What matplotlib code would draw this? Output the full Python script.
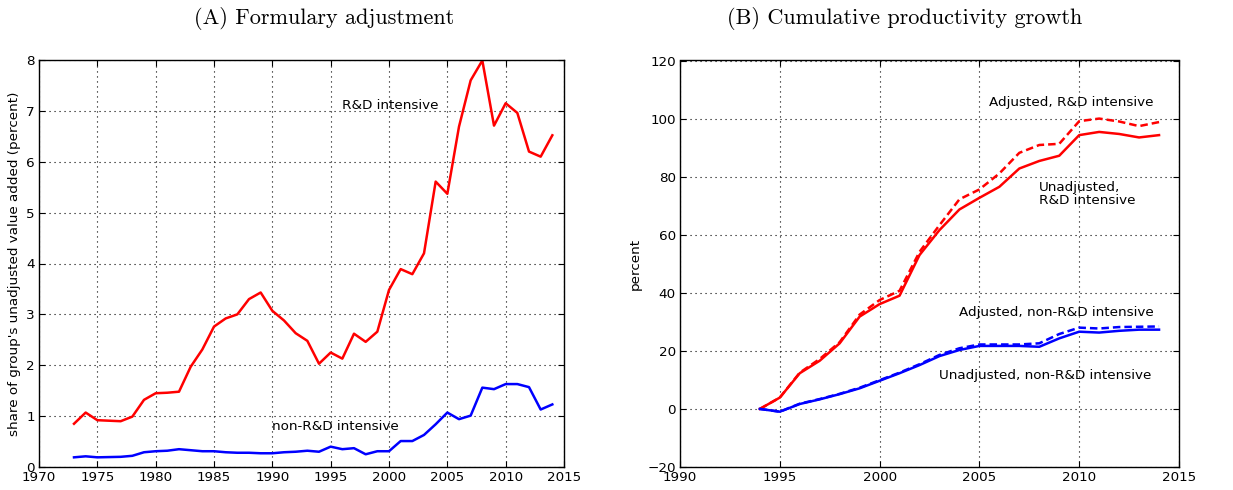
import matplotlib
matplotlib.use("Agg")
import matplotlib.pyplot as plt
import numpy as np

# ---------------- data ----------------
years_a = list(range(1973, 2015))
rd_share = [0.85, 1.07, 0.92, 0.91, 0.90, 0.99, 1.32, 1.45, 1.46, 1.48,
            1.97, 2.31, 2.76, 2.92, 3.00, 3.30, 3.43, 3.07, 2.88, 2.63,
            2.48, 2.03, 2.25, 2.13, 2.62, 2.46, 2.66, 3.48, 3.89, 3.79,
            4.20, 5.61, 5.37, 6.69, 7.60, 7.99, 6.71, 7.15, 6.96, 6.20,
            6.10, 6.52]
nonrd_share = [0.19, 0.21, 0.19, 0.195, 0.20, 0.22, 0.29, 0.31, 0.32, 0.35,
               0.33, 0.31, 0.31, 0.29, 0.28, 0.28, 0.27, 0.27, 0.29, 0.30,
               0.32, 0.30, 0.40, 0.35, 0.37, 0.25, 0.31, 0.31, 0.51, 0.51,
               0.63, 0.84, 1.07, 0.94, 1.01, 1.56, 1.53, 1.63, 1.63, 1.57,
               1.13, 1.23]

years_b = list(range(1994, 2015))
rd_unadj = [0, 3.9, 12.3, 16.6, 22.6, 31.8, 36.1, 39.0, 53.0, 61.6, 68.7,
            72.7, 76.5, 82.8, 85.4, 87.2, 94.3, 95.4, 94.7, 93.5, 94.3]
rd_adj = [0, 3.9, 12.5, 17.2, 23.0, 32.5, 37.5, 40.7, 54.1, 63.3, 72.2,
          75.6, 81.1, 88.2, 90.9, 91.3, 99.1, 100.0, 99.0, 97.4, 98.8]
nonrd_unadj = [0, -0.95, 1.7, 3.3, 5.1, 7.1, 9.7, 12.3, 15.1, 18.2, 20.3,
               21.7, 21.7, 21.7, 21.4, 24.3, 26.6, 26.3, 26.9, 27.3, 27.3]
nonrd_adj = [0, -0.95, 1.8, 3.4, 5.2, 7.3, 9.9, 12.5, 15.4, 18.6, 20.9,
             22.2, 22.2, 22.2, 22.6, 25.8, 28.0, 27.7, 28.2, 28.3, 28.4]

title_a = "(A) Formulary adjustment"
title_b = "(B) Cumulative productivity growth"
ylabel_a = "share of group's unadjusted value added (percent)"
ylabel_b = "percent"

# ---------------- style ----------------
plt.rcParams['font.family'] = ['DejaVu Sans']
plt.rcParams['font.size'] = 9.7

RED = '#ff0000'
BLUE = '#0000ff'
LW = 1.8
FS = 9.7

fig = plt.figure(figsize=(12.33, 4.90), dpi=100)
W, H = 1233, 490
axA = fig.add_axes([39 / W, 1 - 467 / H, (564 - 39) / W, (467 - 60) / H])
axB = fig.add_axes([680 / W, 1 - 467 / H, (1179 - 680) / W, (467 - 60.5) / H])


def style(ax):
    ax.grid(True, linestyle=(0, (1, 3.5)), color='black', linewidth=0.8)
    ax.tick_params(direction='in', top=True, right=True, length=4, width=0.8,
                   pad=3, labelsize=FS)
    for s in ax.spines.values():
        s.set_linewidth(1.0)
    ax.set_axisbelow(True)


# Panel A
axA.plot(years_a, rd_share, color=RED, lw=LW)
axA.plot(years_a, nonrd_share, color=BLUE, lw=LW)
axA.set_xlim(1970, 2015)
axA.set_ylim(0, 8)
axA.set_xticks(range(1970, 2016, 5))
axA.set_yticks(range(0, 9))
axA.set_ylabel(ylabel_a, fontsize=FS, labelpad=4)
axA.text(1996, 7.1, "R&D intensive", ha='left', va='center', fontsize=FS)
axA.text(1990, 0.79, "non-R&D intensive", ha='left', va='center', fontsize=FS)
style(axA)

# Panel B
axB.plot(years_b, rd_unadj, color=RED, lw=LW)
axB.plot(years_b, rd_adj, color=RED, lw=LW, linestyle=(0, (3, 1.6)))
axB.plot(years_b, nonrd_unadj, color=BLUE, lw=LW)
axB.plot(years_b, nonrd_adj, color=BLUE, lw=LW, linestyle=(0, (3, 1.6)))
axB.set_xlim(1990, 2015)
axB.set_ylim(-20, 120)
axB.set_xticks(range(1990, 2016, 5))
axB.set_yticks(range(-20, 121, 20))
axB.set_ylabel(ylabel_b, fontsize=FS, labelpad=4)
axB.text(2005.5, 105.5, "Adjusted, R&D intensive", ha='left', va='center', fontsize=FS)
axB.text(2008.0, 74.1, "Unadjusted,\nR&D intensive", ha='left', va='center',
         fontsize=FS, linespacing=1.0)
axB.text(2004.0, 33.3, "Adjusted, non-R&D intensive", ha='left', va='center', fontsize=FS)
axB.text(2003.0, 11.4, "Unadjusted, non-R&D intensive", ha='left', va='center', fontsize=FS)
style(axB)

# Titles (LaTeX-like serif)
fig.text(324 / W, 1 - 18 / H, title_a, ha='center', va='center',
         family='cmr10', fontsize=16)
fig.text(905 / W, 1 - 18 / H, title_b, ha='center', va='center',
         family='cmr10', fontsize=16)

fig.savefig("out.png", dpi=100, facecolor='white')
